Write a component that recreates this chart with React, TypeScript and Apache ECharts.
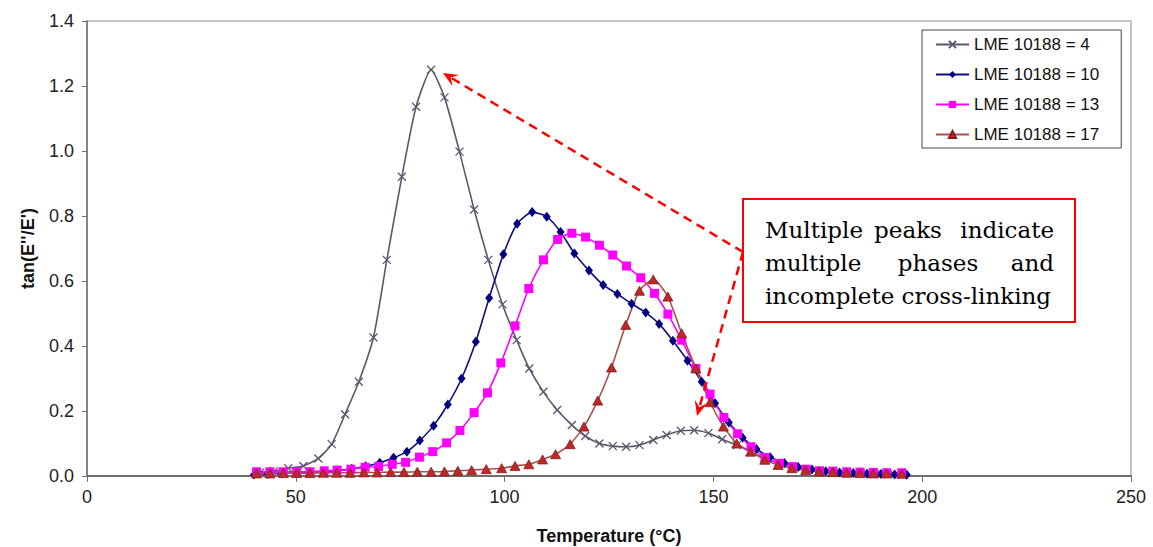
import React, { useEffect, useRef } from "react";
import * as echarts from "echarts";

// Loss factor tan(E''/E') versus temperature for four LME 10188 levels.
const seriesNames = ["LME 10188 = 4", "LME 10188 = 10", "LME 10188 = 13", "LME 10188 = 17"];

const tempLme4 = [
  41.4, 44.8, 48.2, 51.8, 55.4, 58.6, 61.8, 65.1, 68.6, 71.8,
  75.4, 78.8, 82.4, 85.6, 89.2, 92.7, 96.1, 99.5, 102.9, 105.9,
  109.3, 112.6, 116.1, 119.3, 122.7, 125.9, 129.1, 132.3, 135.6, 138.8,
  142.2, 145.4, 148.8, 152.1, 155.6, 158.9, 162.2, 165.5, 168.8, 172.1,
  175.4, 178.7, 182.0, 185.3, 188.6, 191.9, 195.2,
];
const tanLme4 = [
  0.010, 0.015, 0.024, 0.031, 0.054, 0.098, 0.190, 0.290, 0.426, 0.665,
  0.921, 1.136, 1.250, 1.165, 0.998, 0.820, 0.665, 0.528, 0.418, 0.331,
  0.259, 0.203, 0.157, 0.123, 0.100, 0.092, 0.090, 0.095, 0.111, 0.126,
  0.139, 0.141, 0.132, 0.113, 0.095, 0.075, 0.056, 0.040, 0.028, 0.020,
  0.015, 0.011, 0.009, 0.007, 0.006, 0.005, 0.004,
];

const tempLme10 = [
  40.0, 43.3, 46.6, 50.0, 53.3, 56.7, 60.0, 63.4, 66.7, 70.1,
  73.4, 76.6, 79.7, 83.0, 86.4, 89.7, 93.1, 96.3, 99.7, 103.0,
  106.6, 110.1, 113.4, 116.7, 120.2, 123.6, 127.0, 130.4, 133.8, 137.0,
  140.3, 143.8, 147.2, 150.4, 153.7, 157.0, 160.3, 163.6, 167.0, 170.3,
  173.6, 176.9, 180.2, 183.5, 186.8, 190.1, 193.4, 196.3,
];
const tanLme10 = [
  0.005, 0.006, 0.008, 0.009, 0.011, 0.013, 0.017, 0.022, 0.030, 0.041,
  0.056, 0.075, 0.109, 0.155, 0.220, 0.300, 0.413, 0.548, 0.682, 0.776,
  0.812, 0.798, 0.751, 0.685, 0.632, 0.588, 0.560, 0.530, 0.503, 0.468,
  0.416, 0.355, 0.290, 0.224, 0.165, 0.118, 0.083, 0.058, 0.040, 0.028,
  0.020, 0.015, 0.011, 0.009, 0.007, 0.006, 0.005, 0.004,
];

const tempLme13 = [
  40.6, 43.8, 47.0, 50.2, 53.4, 56.8, 59.9, 63.2, 66.6, 69.8,
  73.1, 76.3, 79.6, 82.8, 86.1, 89.3, 92.7, 95.9, 99.1, 102.5,
  105.8, 109.3, 112.7, 116.1, 119.4, 122.7, 125.9, 129.2, 132.6, 135.9,
  139.1, 142.4, 145.8, 149.2, 152.5, 155.8, 159.0, 162.4, 165.8, 169.0,
  172.2, 175.4, 178.6, 181.9, 185.1, 188.3, 191.5, 195.1,
];
const tanLme13 = [
  0.013, 0.013, 0.013, 0.013, 0.013, 0.016, 0.018, 0.021, 0.027, 0.029,
  0.036, 0.042, 0.058, 0.075, 0.102, 0.140, 0.195, 0.256, 0.348, 0.462,
  0.577, 0.665, 0.728, 0.747, 0.735, 0.710, 0.680, 0.646, 0.610, 0.562,
  0.498, 0.418, 0.331, 0.252, 0.180, 0.130, 0.090, 0.057, 0.039, 0.029,
  0.021, 0.016, 0.015, 0.013, 0.012, 0.011, 0.010, 0.010,
];

const tempLme17 = [
  40.6, 43.8, 47.0, 50.2, 53.4, 56.6, 59.8, 63.0, 66.3, 69.5,
  72.7, 75.9, 79.1, 82.4, 85.6, 88.8, 92.1, 95.6, 99.3, 102.5,
  105.8, 109.1, 112.2, 115.7, 119.0, 122.3, 125.6, 129.0, 132.3, 135.6,
  139.1, 142.4, 145.8, 149.2, 152.4, 155.6, 158.9, 162.3, 165.5, 168.8,
  172.1, 175.3, 178.6, 181.9, 185.1, 188.3, 191.5, 195.1,
];
const tanLme17 = [
  0.008, 0.008, 0.009, 0.009, 0.009, 0.010, 0.010, 0.010, 0.011, 0.011,
  0.012, 0.012, 0.013, 0.013, 0.014, 0.016, 0.018, 0.021, 0.024, 0.031,
  0.036, 0.051, 0.067, 0.098, 0.152, 0.232, 0.334, 0.465, 0.570, 0.605,
  0.552, 0.439, 0.331, 0.227, 0.152, 0.100, 0.075, 0.050, 0.034, 0.024,
  0.018, 0.014, 0.012, 0.010, 0.009, 0.008, 0.008, 0.007,
];

const annotationLines = ["Multiple peaks indicate", "multiple phases and", "incomplete cross-linking"];

const pairs = (xs: number[], ys: number[]) => xs.map((x, i) => [x, ys[i]]);

const CROSS = "path://M0,0L10,10M10,0L0,10";
const SANS = '"Liberation Sans", Arial, sans-serif';
const SERIF = '"DejaVu Serif", "Liberation Serif", serif';
const RED = "#ff0000";

// Dashed call-out arrow: shaft plus a notched arrowhead at the tip.
function arrow(x1: number, y1: number, tx: number, ty: number) {
  const dx = tx - x1;
  const dy = ty - y1;
  const len = Math.hypot(dx, dy);
  const ux = dx / len;
  const uy = dy / len;
  const nx = -uy;
  const ny = ux;
  const head = 15;
  const half = 6.5;
  const notch = 9;
  const bx = tx - ux * head;
  const by = ty - uy * head;
  return [
    {
      type: "line",
      z: 100,
      shape: { x1, y1, x2: tx - ux * notch, y2: ty - uy * notch },
      style: { stroke: RED, lineWidth: 2.5, lineDash: [9, 6] },
    },
    {
      type: "polygon",
      z: 101,
      shape: {
        points: [
          [tx, ty],
          [bx + nx * half, by + ny * half],
          [tx - ux * notch, ty - uy * notch],
          [bx - nx * half, by - ny * half],
        ],
      },
      style: { fill: RED },
    },
  ];
}

function word(text: string, x: number, y: number, align: string) {
  return {
    type: "text",
    z: 103,
    x,
    y,
    style: {
      text,
      fontSize: 23,
      fontFamily: SERIF,
      fill: "#000",
      textAlign: align,
      textVerticalAlign: "middle",
    },
  };
}

export default function App() {
  const ref = useRef<HTMLDivElement>(null);

  useEffect(() => {
    if (!ref.current) return;
    const chart = echarts.init(ref.current, undefined, { renderer: "svg" });

    const [l1, l2, l3] = annotationLines.map((s) => s.split(" "));
    const boxX = 743;
    const boxY = 199;
    const boxW = 332;
    const boxH = 123;
    const textL = 765;
    const textR = 1054;

    const option: any = {
      animation: false,
      backgroundColor: "#fff",
      grid: {
        left: 87,
        right: 22,
        top: 21,
        bottom: 71,
        outerBoundsMode: "none",
        show: true,
        borderColor: "#8a8a8a",
        borderWidth: 1,
        backgroundColor: "#fff",
      },
      xAxis: {
        type: "value",
        min: 0,
        max: 250,
        interval: 50,
        name: "Temperature (°C)",
        nameLocation: "middle",
        nameGap: 51,
        nameTextStyle: { fontFamily: SANS, fontSize: 18, fontWeight: "bold", color: "#111" },
        axisLine: { show: true, onZero: false, lineStyle: { color: "#6e6e6e", width: 2 } },
        axisTick: { show: true, length: 6, lineStyle: { color: "#6e6e6e" } },
        axisLabel: { fontFamily: SANS, fontSize: 18, color: "#222", margin: 12 },
        splitLine: { show: false },
      },
      yAxis: {
        type: "value",
        min: 0,
        max: 1.4,
        interval: 0.2,
        name: "tan(E''/E')",
        nameLocation: "middle",
        nameGap: 50,
        nameTextStyle: { fontFamily: SANS, fontSize: 18, fontWeight: "bold", color: "#111" },
        axisLine: { show: true, lineStyle: { color: "#6e6e6e", width: 1.5 } },
        axisTick: { show: true, length: 5, lineStyle: { color: "#6e6e6e" } },
        axisLabel: {
          fontFamily: SANS,
          fontSize: 18,
          color: "#222",
          margin: 13,
          formatter: (v: number) => v.toFixed(1),
        },
        splitLine: { show: false },
      },
      legend: {
        orient: "vertical",
        left: 922,
        top: 30,
        padding: [6, 22, 5, 13],
        itemGap: 13,
        itemWidth: 33,
        itemHeight: 9,
        borderColor: "#444",
        borderWidth: 1,
        backgroundColor: "#fff",
        textStyle: { fontFamily: SANS, fontSize: 17, color: "#111", lineHeight: 16 },
        data: seriesNames,
      },
      series: [
        {
          name: seriesNames[0],
          type: "line",
          data: pairs(tempLme4, tanLme4),
          symbol: CROSS,
          symbolSize: 8,
          smooth: 0.2,
          lineStyle: { color: "#5f566c", width: 1.6 },
          itemStyle: { color: "#5f566c", borderColor: "#5f566c", borderWidth: 1.3 },
        },
        {
          name: seriesNames[1],
          type: "line",
          data: pairs(tempLme10, tanLme10),
          symbol: "diamond",
          symbolSize: [8, 10],
          smooth: 0.2,
          lineStyle: { color: "#101080", width: 1.6 },
          itemStyle: { color: "#000080" },
        },
        {
          name: seriesNames[2],
          type: "line",
          data: pairs(tempLme13, tanLme13),
          symbol: "rect",
          symbolSize: 9,
          smooth: 0.2,
          lineStyle: { color: "#ff00ff", width: 1.6 },
          itemStyle: { color: "#ff00ff" },
        },
        {
          name: seriesNames[3],
          type: "line",
          data: pairs(tempLme17, tanLme17),
          symbol: "triangle",
          symbolSize: [10, 9],
          smooth: 0.2,
          lineStyle: { color: "#a8524f", width: 1.6 },
          itemStyle: { color: "#bb2a28", borderColor: "#8a1c1c", borderWidth: 0.8 },
        },
      ],
      graphic: [
        ...arrow(743, 252, 443, 73),
        ...arrow(743, 252, 697, 416),
        {
          type: "rect",
          z: 102,
          shape: { x: boxX, y: boxY, width: boxW, height: boxH },
          style: { fill: "#fff", stroke: RED, lineWidth: 2 },
        },
        word(l1[0], textL, 230, "left"),
        word(l1[1], 908, 230, "center"),
        word(l1[2], textR, 230, "right"),
        word(l2[0], textL, 263, "left"),
        word(l2[1], 938, 263, "center"),
        word(l2[2], textR, 263, "right"),
        word(l3.join(" "), textL, 296, "left"),
      ],
    };

    chart.setOption(option);
    return () => chart.dispose();
  }, []);

  return (
    <div
      ref={ref}
      style={{ position: "absolute", left: 0, top: 0, width: 1153, height: 547, background: "#fff" }}
    />
  );
}
